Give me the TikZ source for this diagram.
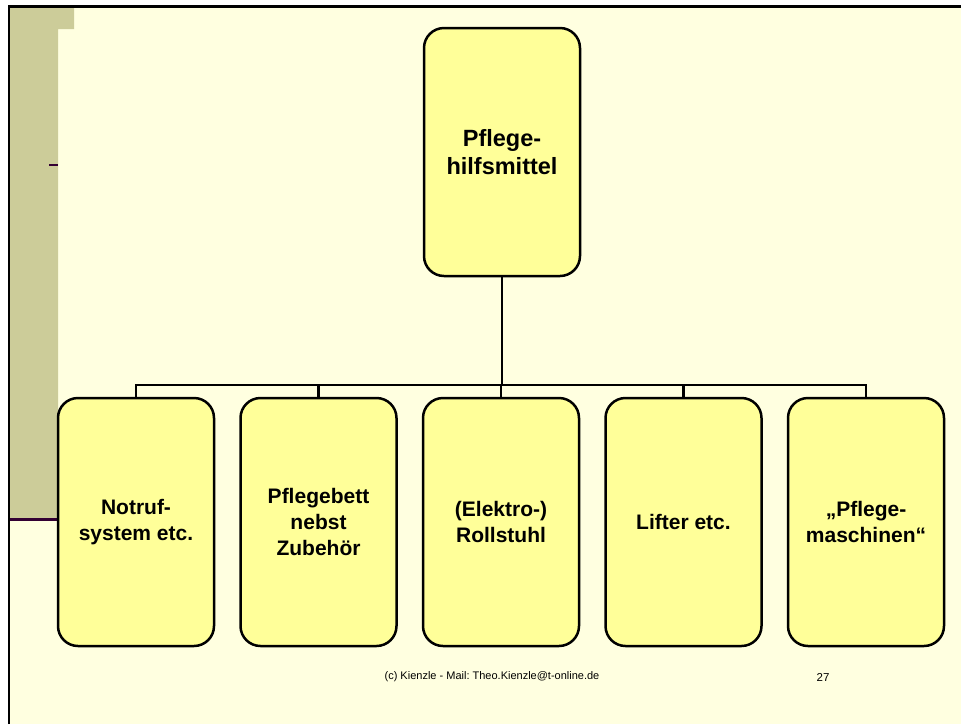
\documentclass[tikz,border=0pt]{standalone}
\usepackage{fontspec}
\setmainfont{Liberation Sans}
\usepackage{tikz}
\usetikzlibrary{positioning}
\definecolor{slide}{HTML}{FFFFE0}
\definecolor{olive}{HTML}{CCCC99}
\definecolor{boxfill}{HTML}{FFFF99}
\definecolor{plum}{HTML}{330033}
\frenchspacing

\begin{document}
\begin{tikzpicture}[x=1pt,y=-1pt,node distance=182.5pt,
  box/.style={draw,line width=2.5pt,fill=boxfill,rounded corners=20pt,minimum width=156pt,minimum height=248pt,align=center,font=\bfseries\fontsize{21}{26}\selectfont},
  link/.style={line width=2.6pt}]
\useasboundingbox (0,0) rectangle (961,724);
\fill[slide] (9,6.5) rectangle (961,724);
\fill[olive] (9,6.5) rectangle (58,519) (9,6.5) rectangle (74,29);
\draw[plum,line width=3pt] (9,519) -- (58,519);
\draw[plum,line width=2pt] (49,165) -- (58,165);
\draw[line width=2.5pt] (9,724) -- (9,6.5) -- (961,6.5);
\node[box,font=\bfseries\fontsize{23.5}{28}\selectfont] (0) at (502,152) {Pflege-\\hilfsmittel};
\node[box] (1) at (136,522) {Notruf-\\system etc.};
\node[box] (2) [right of=1] {Pflegebett\\nebst\\Zubehör};
\node[box] (3) [right of=2] {(Elektro-)\\Rollstuhl};
\node[box] (4) [right of=3] {Lifter etc.};
\node[box] (5) [right of=4] {„Pflege-\\maschinen“};
\coordinate (bus) at (502,385);
\draw[link] (0) -- (0 |- bus);
\draw[link] (1) |- (bus) -| (5);
\foreach \i in {2,3,4} \draw[link] (\i) -- (\i |- bus);
\node[font=\fontsize{11}{13}\selectfont] (foot) at (492,677) {(c) Kienzle - Mail: Theo.Kienzle@t-online.de};
\node[font=\fontsize{11.5}{13}\selectfont] (page) at (823,677) {27};
\end{tikzpicture}
\end{document}
